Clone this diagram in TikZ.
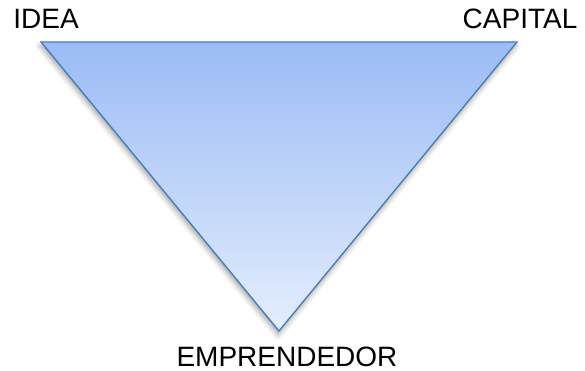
\documentclass[tikz,border=0pt]{standalone}
\usepackage{fontspec}
\setmainfont{Liberation Sans}
\usetikzlibrary{shadows.blur}
\definecolor{topblue}{HTML}{9BBBF6}
\definecolor{botblue}{HTML}{E4EEFD}
\definecolor{edgeblue}{HTML}{4A7EBB}
\tikzset{
  lbl/.style={inner sep=0pt, anchor=base, font=\fontsize{28}{32}\selectfont, text=black},
  tri/.style={draw=edgeblue, line width=1.4pt, line join=miter, top color=topblue, bottom color=botblue,
    blur shadow={shadow xshift=-1pt, shadow yshift=-4pt, shadow blur radius=5pt, shadow opacity=35}}
}
\begin{document}
\begin{tikzpicture}[x=1pt,y=1pt]
\useasboundingbox (0,0) rectangle (585,371);
\coordinate (A) at (41,329);
\coordinate (B) at (517,329);
\coordinate (C) at (279,40);
\path[tri] (A) -- (B) -- (C) -- cycle;
\node[lbl] (idea) at (46,342) {IDEA};
\node[lbl] (capital) at (520,342) {CAPITAL};
\node[lbl] (empr) at (287,4.5) {EMPRENDEDOR};
\end{tikzpicture}
\end{document}
